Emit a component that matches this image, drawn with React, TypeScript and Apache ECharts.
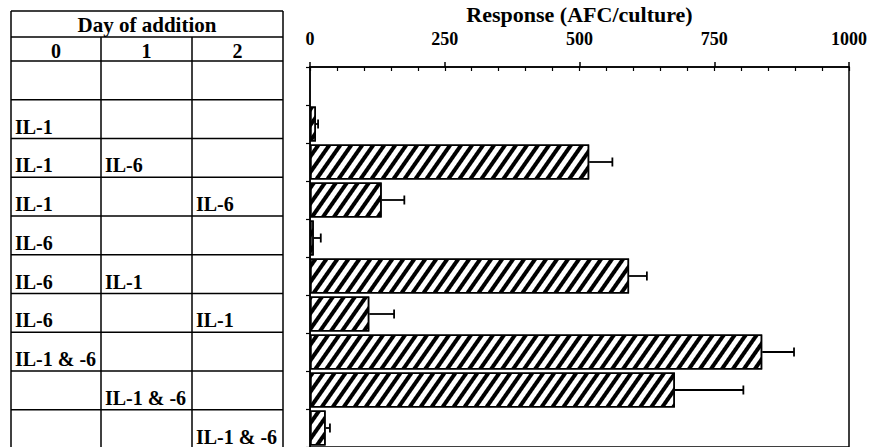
import React, { useEffect, useRef } from "react";
import * as echarts from "echarts";

// ---- data ----
const dayHeaders = ["0", "1", "2"];
const day0 = ["", "IL-1", "IL-1", "IL-1", "IL-6", "IL-6", "IL-6", "IL-1 & -6", "", ""];
const day1 = ["", "", "IL-6", "", "", "IL-1", "", "", "IL-1 & -6", ""];
const day2 = ["", "", "", "IL-6", "", "", "IL-1", "", "", "IL-1 & -6"];
const categories = [
  "none",
  "IL-1 d0",
  "IL-1 d0 + IL-6 d1",
  "IL-1 d0 + IL-6 d2",
  "IL-6 d0",
  "IL-6 d0 + IL-1 d1",
  "IL-6 d0 + IL-1 d2",
  "IL-1 & -6 d0",
  "IL-1 & -6 d1",
  "IL-1 & -6 d2",
];
const response: (number | null)[] = [null, 11, 518, 133, 7, 592, 110, 839, 677, 29];
const errors: (number | null)[] = [null, 4, 43, 42, 13, 33, 46, 59, 127, 8];
const xTicks = { min: 0, max: 1000, interval: 250, minorInterval: 50 };

const FONT = "Liberation Serif, Times New Roman, DejaVu Serif, serif";

export default function App() {
  const ref = useRef<HTMLDivElement>(null);

  useEffect(() => {
    document.body.style.margin = "0";
    const chart = echarts.init(ref.current!, null, { renderer: "svg" });

    // ---- table layout ----
    const tL = 11, tR = 283, c1 = 101, c2 = 192;
    const tTop = 11, hRow1 = 37, hRow2 = 61, rowH = 38.75, tBottom = 460;
    const colLeft = [tL, c1, c2];
    const colCenter = [(tL + c1) / 2, (c1 + c2) / 2, (c2 + tR) / 2];
    const lineStyle = { stroke: "#000", lineWidth: 1.5 };
    const graphics: any[] = [];
    const hLine = (y: number) =>
      graphics.push({ type: "line", shape: { x1: tL, y1: y, x2: tR, y2: y }, style: lineStyle });
    const vLine = (x: number, y1: number) =>
      graphics.push({ type: "line", shape: { x1: x, y1, x2: x, y2: tBottom }, style: lineStyle });
    hLine(tTop);
    hLine(hRow1);
    hLine(hRow2);
    const nRows = day0.length;
    for (let i = 1; i <= nRows; i++) hLine(hRow2 + i * rowH);
    vLine(tL, tTop);
    vLine(tR, tTop);
    vLine(c1, hRow1);
    vLine(c2, hRow1);
    const txt = (text: string, x: number, y: number, align: string, size = 20) =>
      graphics.push({
        type: "text",
        x,
        y,
        style: {
          text,
          font: `bold ${size}px ${FONT}`,
          fontSize: size,
          fontWeight: "bold",
          fontFamily: FONT,
          fill: "#000",
          align,
          verticalAlign: "middle",
          lineHeight: 17,
        },
      });
    txt("Day of addition", (tL + tR) / 2, 25.3, "center", 21);
    dayHeaders.forEach((h, j) => txt(h, colCenter[j], 50.5, "center"));
    [day0, day1, day2].forEach((col, j) => {
      col.forEach((label, i) => {
        if (!label) return;
        const rowBottom = hRow2 + (i + 1) * rowH;
        txt(label, colLeft[j] + 4, rowBottom - 12, "left");
      });
    });
    txt("Response (AFC/culture)", 579.5, 14.5, "center", 22);

    const errData = response
      .map((v, i) => (v == null || errors[i] == null ? null : [v, i, errors[i]]))
      .filter((d) => d != null);

    chart.setOption({
      animation: false,
      textStyle: { fontFamily: FONT },
      grid: {
        left: 310,
        right: 32,
        top: 67,
        height: 382.5,
        show: true,
        borderColor: "#000",
        borderWidth: 1.5,
        backgroundColor: "transparent",
      },
      xAxis: [
        {
          type: "value",
          position: "top",
          min: xTicks.min,
          max: xTicks.max,
          interval: xTicks.interval,
          axisLine: { show: true, lineStyle: { color: "#000", width: 1.5 } },
          axisTick: { show: true, length: 5, lineStyle: { color: "#000", width: 1.5 } },
          axisLabel: {
            color: "#000",
            fontSize: 18,
            fontWeight: "bold",
            fontFamily: FONT,
            margin: 19,
            formatter: (v: number) => String(v),
          },
          splitLine: { show: false },
        },
        {
          type: "value",
          position: "top",
          min: xTicks.min,
          max: xTicks.max,
          interval: xTicks.minorInterval,
          axisLine: { show: false },
          axisTick: { show: true, inside: true, length: 4, lineStyle: { color: "#000", width: 1.2 } },
          axisLabel: { show: false },
          splitLine: { show: false },
        },
      ],
      yAxis: {
        type: "category",
        inverse: true,
        data: categories,
        axisLine: { show: true, lineStyle: { color: "#000", width: 1.5 } },
        axisTick: { show: true, length: 4, lineStyle: { color: "#000", width: 1.2 } },
        axisLabel: { show: false },
        splitLine: { show: false },
      },
      series: [
        {
          type: "bar",
          xAxisIndex: 0,
          data: response,
          barWidth: 35,
          itemStyle: {
            color: "#fff",
            borderColor: "#000",
            borderWidth: 1.5,
            decal: {
              symbol: "rect",
              symbolSize: 1,
              color: "#000",
              dashArrayX: [1, 0],
              dashArrayY: [3.2, 4.2],
              rotation: -0.96,
            },
          },
        },
        {
          type: "custom",
          xAxisIndex: 0,
          encode: { x: 0, y: 1 },
          data: errData,
          z: 5,
          renderItem: (params: any, api: any) => {
            const v = api.value(0);
            const idx = api.value(1);
            const e = api.value(2);
            const p0 = api.coord([v, idx]);
            const p1 = api.coord([v + e, idx]);
            const st = { stroke: "#000", lineWidth: 1.8 };
            return {
              type: "group",
              children: [
                { type: "line", shape: { x1: p0[0], y1: p0[1], x2: p1[0], y2: p1[1] }, style: st },
                { type: "line", shape: { x1: p1[0], y1: p1[1] - 4.5, x2: p1[0], y2: p1[1] + 4.5 }, style: st },
              ],
            };
          },
        },
      ],
      graphic: graphics,
    });

    return () => chart.dispose();
  }, []);

  return (
    <div
      ref={ref}
      style={{ position: "fixed", left: 0, top: 0, width: 881, height: 447, background: "#fff" }}
    />
  );
}
